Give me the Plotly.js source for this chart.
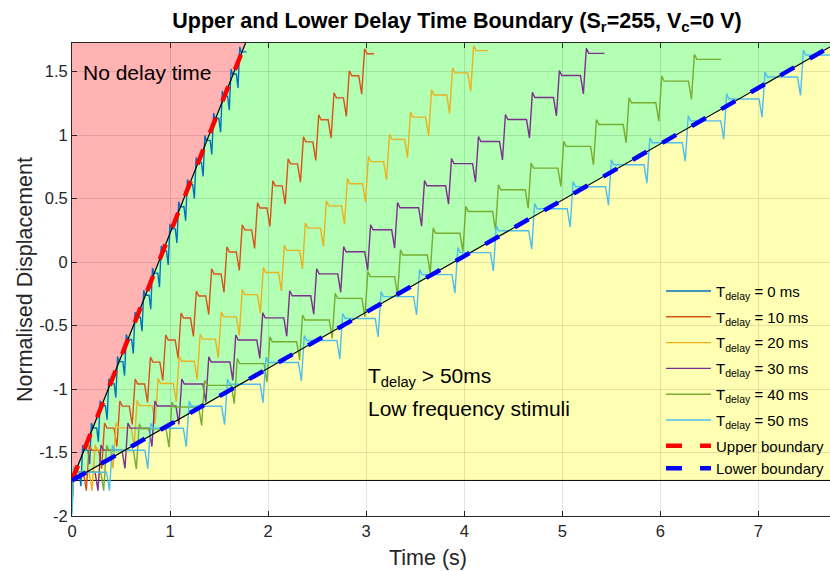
<!DOCTYPE html>
<html>
<head>
<meta charset="utf-8">
<script src="https://cdn.plot.ly/plotly-3.0.1.min.js"></script>
<style>
  html, body { margin: 0; padding: 0; background: #fff; overflow: hidden; }
  #chart { width: 830px; height: 571px; }
</style>
</head>
<body>
<div id="chart"></div>
<script>
// ---- data -------------------------------------------------------------
const seriesNames = [
  'T<sub>delay</sub> = 0 ms',
  'T<sub>delay</sub> = 10 ms',
  'T<sub>delay</sub> = 20 ms',
  'T<sub>delay</sub> = 30 ms',
  'T<sub>delay</sub> = 40 ms',
  'T<sub>delay</sub> = 50 ms'
];

// time (s) at which each of the 20 displacement steps reaches its new level
const riseTimes0ms  = [0.020, 0.109, 0.198, 0.287, 0.376, 0.465, 0.554, 0.643, 0.732, 0.821,
                       0.910, 0.999, 1.088, 1.177, 1.266, 1.355, 1.444, 1.533, 1.622, 1.711];
const riseTimes10ms = [0.020, 0.176, 0.332, 0.488, 0.644, 0.800, 0.956, 1.112, 1.268, 1.424,
                       1.580, 1.736, 1.892, 2.048, 2.204, 2.360, 2.516, 2.672, 2.828, 2.984];
const riseTimes20ms = [0.020, 0.235, 0.449, 0.664, 0.878, 1.093, 1.307, 1.522, 1.736, 1.951,
                       2.165, 2.380, 2.594, 2.809, 3.023, 3.238, 3.452, 3.667, 3.881, 4.096];
const riseTimes30ms = [0.020, 0.295, 0.570, 0.845, 1.120, 1.395, 1.670, 1.945, 2.220, 2.495,
                       2.770, 3.045, 3.320, 3.595, 3.870, 4.145, 4.420, 4.695, 4.970, 5.245];
const riseTimes40ms = [0.020, 0.353, 0.686, 1.019, 1.352, 1.685, 2.018, 2.351, 2.684, 3.017,
                       3.350, 3.683, 4.016, 4.349, 4.682, 5.015, 5.348, 5.681, 6.014, 6.347];
const riseTimes50ms = [0.020, 0.412, 0.803, 1.195, 1.586, 1.978, 2.369, 2.761, 3.152, 3.544,
                       3.935, 4.327, 4.718, 5.110, 5.501, 5.893, 6.284, 6.676, 7.067, 7.459];

// settled normalised displacement of each step
const levels0ms  = [-1.655, -1.481, -1.307, -1.132, -0.958, -0.784, -0.610, -0.435, -0.261, -0.087,
                     0.087,  0.261,  0.435,  0.610,  0.784,  0.958,  1.132,  1.307,  1.481,  1.655];
const levels10ms = [-1.655, -1.482, -1.308, -1.135, -0.961, -0.788, -0.614, -0.441, -0.268, -0.094,
                     0.079,  0.253,  0.426,  0.600,  0.773,  0.946,  1.120,  1.293,  1.467,  1.640];
const levels20ms = [-1.655, -1.480, -1.306, -1.131, -0.956, -0.781, -0.607, -0.432, -0.257, -0.082,
                     0.092,  0.267,  0.442,  0.617,  0.791,  0.966,  1.141,  1.316,  1.490,  1.665];
const levels30ms = [-1.655, -1.481, -1.308, -1.134, -0.961, -0.787, -0.614, -0.440, -0.266, -0.093,
                     0.081,  0.254,  0.428,  0.601,  0.775,  0.949,  1.122,  1.296,  1.469,  1.643];
const levels40ms = [-1.655, -1.484, -1.313, -1.142, -0.971, -0.800, -0.628, -0.457, -0.286, -0.115,
                     0.056,  0.227,  0.398,  0.569,  0.740,  0.911,  1.083,  1.254,  1.425,  1.596];
const levels50ms = [-1.655, -1.482, -1.309, -1.136, -0.963, -0.791, -0.618, -0.445, -0.272, -0.099,
                     0.074,  0.247,  0.420,  0.593,  0.766,  0.939,  1.112,  1.284,  1.457,  1.630];

// displacement at t = 0, before the first step settles
const startLevels = [-1.76, -1.84, -1.88, -1.91, -1.94, -1.99];

// time (s) at which each recording stops
const recordEnd = [1.78, 3.08, 4.24, 5.43, 6.62, 7.80];

// boundary lines (time, displacement)
const upperBoundaryT = [0, 1.77];
const upperBoundaryY = [-1.72, 1.725];
const lowerBoundaryT = [0, 7.80];
const lowerBoundaryY = [-1.72, 1.725];

// transient around each step: undershoot before the rise, overshoot after it
const fastEdge = { t: [-0.035, -0.018, 0, 0.014], dip: 0.11, over: 0.04 };
const slowEdge = { t: [-0.060, -0.030, 0, 0.025], dip: 0.145, over: 0.04 };

const xTicks = [0, 1, 2, 3, 4, 5, 6, 7];
const yTicks = [-2, -1.5, -1, -0.5, 0, 0.5, 1, 1.5];
const yTickText = ['-2', '-1.5', '-1', '-0.5', '0', '0.5', '1', '1.5'];

// ---- styling ----------------------------------------------------------
const FONT = 'Liberation Sans, Arial, Helvetica, sans-serif';
const seriesColors = ['#0072BD', '#D95319', '#EDB120', '#7E2F8E', '#77AC30', '#4DBEEE'];
const axisInk = '#262626';

// ---- build the step responses ----------------------------------------
function stepResponse(rises, levels, start, endTime, edge) {
  const t = [0], y = [start];
  let prev = levels[0];
  for (let k = 0; k < rises.length; k++) {
    const r = rises[k];
    if (k > 0) {
      t.push(r + edge.t[0]); y.push(prev);
      t.push(r + edge.t[1]); y.push(prev - edge.dip);
    }
    t.push(r + edge.t[2]); y.push(levels[k] + edge.over);
    t.push(r + edge.t[3]); y.push(levels[k]);
    prev = levels[k];
  }
  t.push(endTime); y.push(prev);
  return { t, y };
}

const allRises  = [riseTimes0ms, riseTimes10ms, riseTimes20ms, riseTimes30ms, riseTimes40ms, riseTimes50ms];
const allLevels = [levels0ms, levels10ms, levels20ms, levels30ms, levels40ms, levels50ms];

const traces = [];
for (let i = 0; i < seriesNames.length; i++) {
  const resp = stepResponse(allRises[i], allLevels[i], startLevels[i], recordEnd[i],
                            i === 0 ? fastEdge : slowEdge);
  traces.push({
    type: 'scatter', mode: 'lines', name: seriesNames[i], legendgroup: 'd' + i,
    x: resp.t, y: resp.y,
    line: { color: seriesColors[i], width: 1.4 },
    hoverinfo: 'skip'
  });
}

// thin guide lines under the dashed boundaries
traces.push({ type: 'scatter', mode: 'lines', x: upperBoundaryT, y: upperBoundaryY,
  line: { color: '#000', width: 1.2 }, showlegend: false, hoverinfo: 'skip' });
traces.push({ type: 'scatter', mode: 'lines', x: lowerBoundaryT, y: lowerBoundaryY,
  line: { color: '#000', width: 1.2 }, showlegend: false, hoverinfo: 'skip' });

traces.push({ type: 'scatter', mode: 'lines', name: 'Upper boundary', legendgroup: 'bounds',
  x: upperBoundaryT, y: upperBoundaryY,
  line: { color: '#FF0000', width: 4.5, dash: '16px,18px' }, hoverinfo: 'skip' });
traces.push({ type: 'scatter', mode: 'lines', name: 'Lower boundary', legendgroup: 'bounds',
  x: lowerBoundaryT, y: lowerBoundaryY,
  line: { color: '#0000FF', width: 4.5, dash: '16px,18px' }, hoverinfo: 'skip' });

// shaded regions, built from the boundary end points
const x0 = upperBoundaryT[0], yBase = upperBoundaryY[0];
const yTop = upperBoundaryY[1];
const xU = upperBoundaryT[1], xL = lowerBoundaryT[1];
function poly(pts) { return 'M ' + pts.map(p => p[0] + ',' + p[1]).join(' L ') + ' Z'; }
const regionShapes = [
  { pts: [[x0, yBase], [xU, yTop], [x0, yTop]], color: 'rgb(255,179,179)' },
  { pts: [[x0, yBase], [xU, yTop], [xL, yTop]], color: 'rgb(179,255,179)' },
  { pts: [[x0, yBase], [xL, yTop], [xL, yBase]], color: 'rgb(255,255,179)' }
].map(r => ({
  type: 'path', xref: 'x', yref: 'y', layer: 'below',
  path: poly(r.pts), fillcolor: r.color, line: { width: 0 }
}));
// edge of the low-frequency zone
regionShapes.push({ type: 'line', xref: 'x', yref: 'y', layer: 'below',
  x0: x0, x1: xL, y0: yBase, y1: yBase, line: { color: '#000', width: 1 } });

const layout = {
  width: 830, height: 571,
  margin: { l: 72, r: 0, t: 43, b: 55 },
  paper_bgcolor: '#fff', plot_bgcolor: '#fff',
  font: { family: FONT, size: 17, color: axisInk },
  title: {
    text: '<b>Upper and Lower Delay Time Boundary (S<sub>r</sub>=255, V<sub>c</sub>=0 V)</b>',
    font: { family: FONT, size: 21.5, color: '#000' },
    xref: 'container', yref: 'container', x: 457 / 830, xanchor: 'center',
    y: 1 - 20 / 571, yanchor: 'middle'
  },
  xaxis: {
    range: [0, 7.73], tickvals: xTicks, ticktext: xTicks.map(String),
    showgrid: true, gridcolor: 'rgba(38,38,38,0.13)', gridwidth: 1, zeroline: false,
    showline: true, linecolor: axisInk, linewidth: 1, mirror: 'ticks',
    ticks: 'inside', ticklen: 5, tickcolor: axisInk,
    tickfont: { family: FONT, size: 16.5, color: axisInk }
  },
  yaxis: {
    range: [-2, 1.725], tickvals: yTicks, ticktext: yTickText,
    showgrid: true, gridcolor: 'rgba(38,38,38,0.13)', gridwidth: 1, zeroline: false,
    showline: true, linecolor: axisInk, linewidth: 1, mirror: false,
    ticks: 'inside', ticklen: 5, tickcolor: axisInk,
    tickfont: { family: FONT, size: 16.5, color: axisInk },
    title: { text: 'Normalised Displacement', font: { family: FONT, size: 21.5, color: axisInk }, standoff: 0 }
  },
  legend: {
    x: 0.777, y: 0.510, xanchor: 'left', yanchor: 'top',
    bgcolor: 'rgba(0,0,0,0)', borderwidth: 0, tracegroupgap: 3.3,
    font: { family: FONT, size: 15, color: '#000' }, itemwidth: 45
  },
  shapes: regionShapes,
  annotations: [
    // horizontal axis caption
    { xref: 'paper', yref: 'paper', x: (428 - 72) / 758, y: -(558 - 515.6) / 472.6,
      xanchor: 'center', yanchor: 'middle', showarrow: false,
      text: 'Time (s)', font: { family: FONT, size: 21.5, color: axisInk } },
    { xref: 'x', yref: 'y', x: 0.09, y: 1.49, xanchor: 'left', yanchor: 'middle', showarrow: false,
      text: 'No delay time', font: { family: FONT, size: 21, color: '#000' } },
    { xref: 'x', yref: 'y', x: 3.0, y: -0.905, xanchor: 'left', yanchor: 'middle', showarrow: false,
      text: 'T<sub>delay</sub> > 50ms', font: { family: FONT, size: 21, color: '#000' } },
    { xref: 'x', yref: 'y', x: 3.0, y: -1.15, xanchor: 'left', yanchor: 'middle', showarrow: false,
      text: 'Low frequency stimuli', font: { family: FONT, size: 21, color: '#000' } }
  ],
  showlegend: true
};

Plotly.newPlot('chart', traces, layout, { displayModeBar: false, staticPlot: true });
</script>
</body>
</html>
